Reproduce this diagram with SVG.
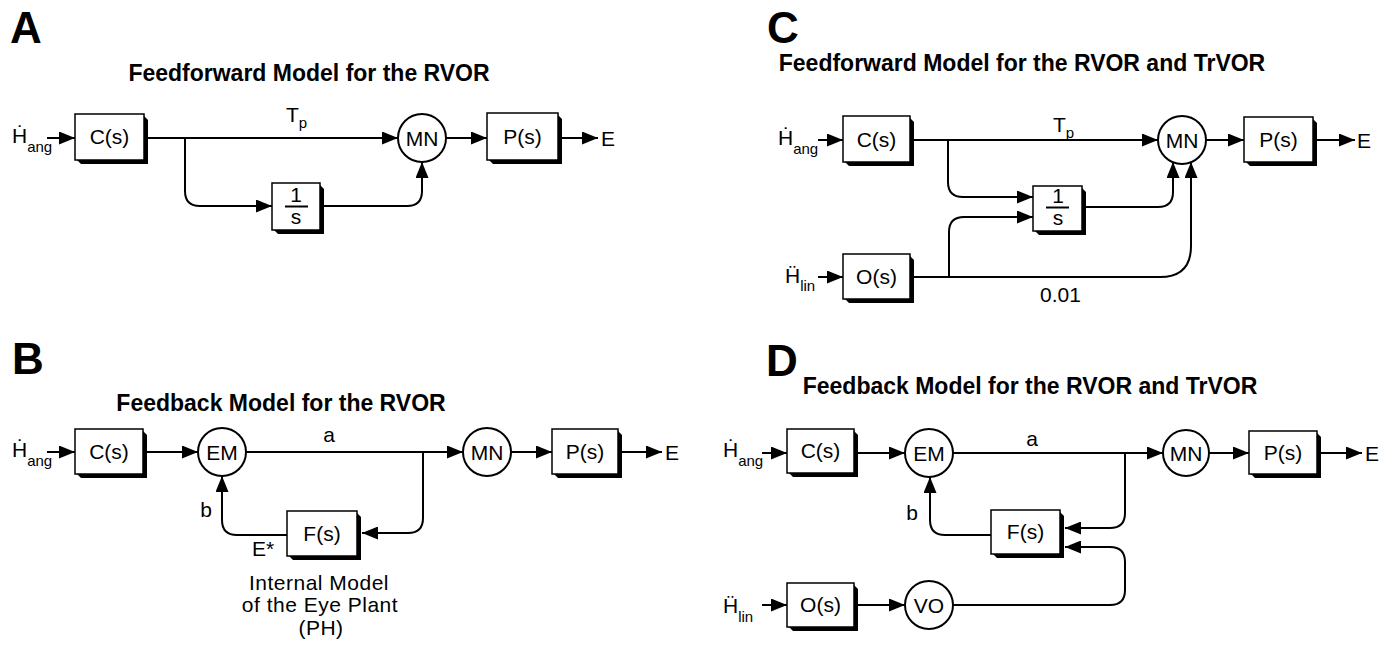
<svg xmlns="http://www.w3.org/2000/svg" width="1394" height="660" viewBox="0 0 1394 660">
<style>
.ln{fill:none;stroke:#000;stroke-width:2}
.ar{marker-end:url(#ah)}
.bx{fill:#fff;stroke:#000;stroke-width:1.5}
.sh{fill:#000}
.nd{fill:#fff;stroke:#000;stroke-width:2}
.fl{stroke:#000;stroke-width:2}
text{font-family:"Liberation Sans",Arial,"DejaVu Sans",sans-serif;fill:#000}
.t{font-size:21px}
.c{text-anchor:middle}
.sub{font-size:15px}
.ttl{font-weight:bold;font-size:23px;text-anchor:middle}
.pl{font-weight:bold;font-size:44px}
.cap{letter-spacing:0.5px}
</style>
<defs>
<marker id="ah" markerUnits="userSpaceOnUse" markerWidth="16" markerHeight="13" refX="16" refY="6.5" orient="auto"><path d="M0,0 L16,6.5 L0,13 z" fill="#000"/></marker>
</defs>
<rect width="1394" height="660" fill="#fff"/>

<!-- Panel labels and titles -->
<text class="pl" x="10" y="43">A</text>
<text class="ttl" x="309" y="81">Feedforward Model for the RVOR</text>
<text class="pl" x="12" y="374">B</text>
<text class="ttl" x="281" y="411">Feedback Model for the RVOR</text>
<text class="pl" x="767" y="43">C</text>
<text class="ttl" x="1022" y="71">Feedforward Model for the RVOR and TrVOR</text>
<text class="pl" x="766" y="376">D</text>
<text class="ttl" x="1030" y="394">Feedback Model for the RVOR and TrVOR</text>

<!-- Connectors -->
<g id="connectors">
<!-- A -->
<path class="ln ar" d="M47,138 L75,138"/>
<path class="ln ar" d="M148,138 L398,138"/>
<path class="ln ar" d="M185,138 L185,191 Q185,206 200,206 L272,206"/>
<path class="ln ar" d="M324,206 L407,206 Q422,206 422,191 L422,162"/>
<path class="ln ar" d="M446,138 L487,138"/>
<path class="ln ar" d="M562,138 L598,138"/>
<!-- B -->
<path class="ln ar" d="M47,452 L75,452"/>
<path class="ln ar" d="M147,452 L198,452"/>
<path class="ln ar" d="M246,452 L463,452"/>
<path class="ln ar" d="M423,452 L423,518 Q423,533 408,533 L362,533"/>
<path class="ln ar" d="M287,535 L237,535 Q222,535 222,520 L222,476"/>
<path class="ln ar" d="M511,452 L552,452"/>
<path class="ln ar" d="M622,452 L662,452"/>
<!-- C -->
<path class="ln ar" d="M818,140 L843,140"/>
<path class="ln ar" d="M914,140 L1158,140"/>
<path class="ln ar" d="M948,140 L948,182 Q948,197 963,197 L1033,197"/>
<path class="ln ar" d="M949,277 L949,232 Q949,217 964,217 L1033,217"/>
<path class="ln ar" d="M1086,207 L1158,207 Q1173,207 1173,192 L1173,162"/>
<path class="ln ar" d="M914,277 L1160,277 Q1191,277 1191,246 L1191,162"/>
<path class="ln ar" d="M818,277 L843,277"/>
<path class="ln ar" d="M1206,140 L1244,140"/>
<path class="ln ar" d="M1317,140 L1355,140"/>
<!-- D -->
<path class="ln ar" d="M762,453 L787,453"/>
<path class="ln ar" d="M858,453 L905,453"/>
<path class="ln ar" d="M953,453 L1163,453"/>
<path class="ln ar" d="M1125,453 L1125,513 Q1125,528 1110,528 L1065,528"/>
<path class="ln ar" d="M991,535 L945,535 Q930,535 930,520 L930,477"/>
<path class="ln ar" d="M762,605 L787,605"/>
<path class="ln ar" d="M858,605 L905,605"/>
<path class="ln ar" d="M953,605 L1110,605 Q1125,605 1125,590 L1125,562 Q1125,547 1110,547 L1065,547"/>
<path class="ln ar" d="M1209,453 L1249,453"/>
<path class="ln ar" d="M1321,453 L1362,453"/>
</g>

<!-- Panel A nodes -->
<g id="A-in"><text class="t" x="12" y="143">Ḣ<tspan class="sub" dy="9">ang</tspan></text></g>
<g id="A-C"><polygon class="sh" points="144,116 148,120 148,164 81,164 77,160"/><rect class="bx" x="75" y="114" width="69" height="46"/><text class="t c" x="109.5" y="144">C(s)</text></g>
<g id="A-I"><polygon class="sh" points="320,185 324,189 324,234 278,234 274,230"/><rect class="bx" x="272" y="183" width="48" height="47"/><text class="t c" x="296" y="202">1</text><line class="fl" x1="285" y1="206.5" x2="308" y2="206.5"/><text class="t c" x="296" y="224">s</text></g>
<g id="A-MN"><circle class="nd" cx="422" cy="138" r="24"/><text class="t c" x="422" y="145.5">MN</text></g>
<g id="A-P"><polygon class="sh" points="558,115 562,119 562,164 493,164 489,160"/><rect class="bx" x="487" y="113" width="71" height="47"/><text class="t c" x="522.5" y="144">P(s)</text></g>
<g id="A-lbl"><text class="t" x="286" y="122">T<tspan class="sub" dy="6">p</tspan></text><text class="t" x="601" y="146">E</text></g>

<!-- Panel B nodes -->
<g id="B-in"><text class="t" x="12" y="457">Ḣ<tspan class="sub" dy="9">ang</tspan></text></g>
<g id="B-C"><polygon class="sh" points="143,431 147,435 147,478 81,478 77,474"/><rect class="bx" x="75" y="429" width="68" height="45"/><text class="t c" x="109" y="459">C(s)</text></g>
<g id="B-EM"><circle class="nd" cx="222" cy="452" r="24"/><text class="t c" x="222" y="459.5">EM</text></g>
<g id="B-MN"><circle class="nd" cx="487" cy="452" r="24"/><text class="t c" x="487" y="459.5">MN</text></g>
<g id="B-P"><polygon class="sh" points="618,431 622,435 622,478 558,478 554,474"/><rect class="bx" x="552" y="429" width="66" height="45"/><text class="t c" x="585" y="459">P(s)</text></g>
<g id="B-F"><polygon class="sh" points="357,513 361,517 361,560 293,560 289,556"/><rect class="bx" x="287" y="511" width="70" height="45"/><text class="t c" x="322" y="541">F(s)</text></g>
<g id="B-lbl">
<text class="t c" x="329" y="442">a</text>
<text class="t c" x="206" y="517">b</text>
<text class="t" x="252" y="556">E*</text>
<text class="t" x="665" y="460">E</text>
<text class="t c cap" x="319" y="590">Internal Model</text>
<text class="t c cap" x="320" y="612">of the Eye Plant</text>
<text class="t c cap" x="321" y="635">(PH)</text>
</g>

<!-- Panel C nodes -->
<g id="C-in1"><text class="t" x="778" y="145">Ḣ<tspan class="sub" dy="9">ang</tspan></text></g>
<g id="C-in2"><text class="t" x="785" y="283">Ḧ<tspan class="sub" dy="8">lin</tspan></text></g>
<g id="C-C"><polygon class="sh" points="910,118 914,122 914,166 849,166 845,162"/><rect class="bx" x="843" y="116" width="67" height="46"/><text class="t c" x="876.5" y="147">C(s)</text></g>
<g id="C-O"><polygon class="sh" points="910,256 914,260 914,303 849,303 845,299"/><rect class="bx" x="843" y="254" width="67" height="45"/><text class="t c" x="876.5" y="284">O(s)</text></g>
<g id="C-I"><polygon class="sh" points="1082,188 1086,192 1086,235 1039,235 1035,231"/><rect class="bx" x="1033" y="186" width="49" height="45"/><text class="t c" x="1058" y="203">1</text><line class="fl" x1="1046" y1="207.5" x2="1069" y2="207.5"/><text class="t c" x="1058" y="225">s</text></g>
<g id="C-MN"><circle class="nd" cx="1182" cy="140" r="24"/><text class="t c" x="1182" y="147.5">MN</text></g>
<g id="C-P"><polygon class="sh" points="1313,119 1317,123 1317,166 1250,166 1246,162"/><rect class="bx" x="1244" y="117" width="69" height="45"/><text class="t c" x="1278.5" y="147">P(s)</text></g>
<g id="C-lbl"><text class="t" x="1053" y="132">T<tspan class="sub" dy="6">p</tspan></text><text class="t" x="1040" y="302">0.01</text><text class="t" x="1357" y="148">E</text></g>

<!-- Panel D nodes -->
<g id="D-in1"><text class="t" x="723" y="457">Ḣ<tspan class="sub" dy="9">ang</tspan></text></g>
<g id="D-in2"><text class="t" x="723" y="613">Ḧ<tspan class="sub" dy="9">lin</tspan></text></g>
<g id="D-C"><polygon class="sh" points="854,431 858,435 858,477 793,477 789,473"/><rect class="bx" x="787" y="429" width="67" height="44"/><text class="t c" x="820.5" y="458">C(s)</text></g>
<g id="D-EM"><circle class="nd" cx="929" cy="453" r="24"/><text class="t c" x="929" y="460.5">EM</text></g>
<g id="D-MN"><circle class="nd" cx="1186" cy="453" r="23"/><text class="t c" x="1186" y="460.5">MN</text></g>
<g id="D-P"><polygon class="sh" points="1317,433 1321,437 1321,478 1255,478 1251,474"/><rect class="bx" x="1249" y="431" width="68" height="43"/><text class="t c" x="1283" y="460">P(s)</text></g>
<g id="D-F"><polygon class="sh" points="1060,512 1064,516 1064,558 997,558 993,554"/><rect class="bx" x="991" y="510" width="69" height="44"/><text class="t c" x="1025.5" y="539">F(s)</text></g>
<g id="D-O"><polygon class="sh" points="854,585 858,589 858,631 793,631 789,627"/><rect class="bx" x="787" y="583" width="67" height="44"/><text class="t c" x="820.5" y="612">O(s)</text></g>
<g id="D-VO"><circle class="nd" cx="929" cy="605" r="24"/><text class="t c" x="929" y="612.5">VO</text></g>
<g id="D-lbl"><text class="t c" x="1032" y="446">a</text><text class="t c" x="912" y="520">b</text><text class="t" x="1365" y="461">E</text></g>
</svg>
